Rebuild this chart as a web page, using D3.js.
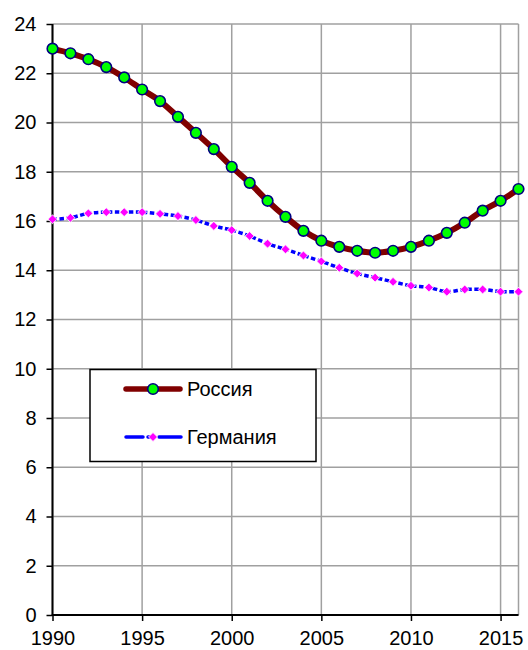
<!DOCTYPE html>
<html>
<head>
<meta charset="utf-8">
<script src="https://cdn.jsdelivr.net/npm/d3@7"></script>
<style>
  body { margin: 0; background: #fff; }
  svg text { font-family: "Liberation Sans", Arial, sans-serif; fill: #000; }
</style>
</head>
<body>
<svg id="chart"></svg>
<script>
const years = d3.range(1990, 2017);
const russia = [23.0, 22.81, 22.57, 22.25, 21.83, 21.34, 20.87, 20.23, 19.58, 18.92,
  18.2, 17.55, 16.82, 16.17, 15.6, 15.2, 14.95, 14.79, 14.71, 14.79,
  14.95, 15.2, 15.52, 15.93, 16.42, 16.82, 17.3];
const germany = [16.07, 16.13, 16.31, 16.36, 16.36, 16.36, 16.29, 16.2, 16.04, 15.8,
  15.63, 15.39, 15.08, 14.85, 14.6, 14.36, 14.1, 13.87, 13.7, 13.53,
  13.37, 13.3, 13.13, 13.22, 13.22, 13.13, 13.13];
const yTicks = [0, 2, 4, 6, 8, 10, 12, 14, 16, 18, 20, 22, 24];
const xTicks = [1990, 1995, 2000, 2005, 2010, 2015];
const seriesNames = ["Россия", "Германия"];

const W = 528, H = 650;
const svg = d3.select("#chart").attr("width", W).attr("height", H);

const x = d3.scaleLinear().domain([1990, 2016]).range([52.5, 518.5]);
const y = d3.scaleLinear().domain([0, 24]).range([615, 24]);

// grid
const grid = svg.append("g").style("stroke", "#a0a0a0").style("stroke-width", 1.5);
yTicks.forEach(t => {
  grid.append("line").attr("x1", x(1990)).attr("x2", x(2016)).attr("y1", y(t)).attr("y2", y(t));
});
xTicks.concat([2016]).forEach(t => {
  grid.append("line").attr("x1", x(t)).attr("x2", x(t)).attr("y1", y(0)).attr("y2", y(24));
});

// axes
const yAxis = svg.append("g").attr("transform", `translate(${x(1990)},0)`)
  .call(d3.axisLeft(y).tickValues(yTicks).tickSize(6).tickPadding(10).tickFormat(d3.format("d")));
const xAxis = svg.append("g").attr("transform", `translate(0,${y(0)})`)
  .call(d3.axisBottom(x).tickValues(xTicks).tickSize(6).tickPadding(10).tickFormat(d3.format("d")));
[yAxis, xAxis].forEach(a => {
  a.select(".domain").remove();
  a.selectAll("line").style("stroke", "#000").style("stroke-width", 1.5);
  a.selectAll("text").style("font-size", "20px").style("font-family", "Liberation Sans, Arial, sans-serif");
});
svg.append("line").attr("x1", x(1990)).attr("x2", x(1990)).attr("y1", y(24)).attr("y2", y(0) + 0.75)
  .style("stroke", "#000").style("stroke-width", 2);
svg.append("line").attr("x1", x(1990) - 0.75).attr("x2", x(2016)).attr("y1", y(0)).attr("y2", y(0))
  .style("stroke", "#000").style("stroke-width", 2);

const line = d3.line().x((d, i) => x(years[i])).y(d => y(d)).curve(d3.curveCardinal.tension(0));

// Germany
svg.append("path").attr("d", line(germany)).attr("fill", "none")
  .style("stroke", "#0000ff").style("stroke-width", 3.5).style("stroke-dasharray", "4.5,2.5");
const diamond = d3.symbol(d3.symbolSquare, 40);
svg.append("g").selectAll("path").data(germany).join("path")
  .attr("d", diamond)
  .attr("transform", (d, i) => `translate(${x(years[i])},${y(d)}) rotate(45)`)
  .style("fill", "#ff00ff").style("stroke", "#fff").style("stroke-width", 0.8);

// Russia
svg.append("path").attr("d", line(russia)).attr("fill", "none")
  .style("stroke", "#800000").style("stroke-width", 6);
svg.append("g").selectAll("circle").data(russia).join("circle")
  .attr("cx", (d, i) => x(years[i])).attr("cy", d => y(d)).attr("r", 5.3)
  .style("fill", "#00ff00").style("stroke", "#000080").style("stroke-width", 1.6);

// legend
const lg = svg.append("g");
lg.append("rect").attr("x", 90).attr("y", 369.5).attr("width", 226).attr("height", 92)
  .style("fill", "#fff").style("stroke", "#000").style("stroke-width", 1.5);
lg.append("line").attr("x1", 126).attr("x2", 180).attr("y1", 389).attr("y2", 389)
  .style("stroke", "#800000").style("stroke-width", 5.5).style("stroke-linecap", "round");
lg.append("circle").attr("cx", 153).attr("cy", 389).attr("r", 5.3)
  .style("fill", "#00ff00").style("stroke", "#000080").style("stroke-width", 1.6);
lg.append("line").attr("x1", 126).attr("x2", 181).attr("y1", 437).attr("y2", 437)
  .style("stroke", "#0000ff").style("stroke-width", 3.5).style("stroke-linecap", "round")
  .style("stroke-dasharray", "17,5,6,5,22");
lg.append("path").attr("d", diamond).attr("transform", "translate(153,437) rotate(45)")
  .style("fill", "#ff00ff").style("stroke", "#fff").style("stroke-width", 0.8);
seriesNames.forEach((n, i) => {
  lg.append("text").attr("x", 187).attr("y", 389 + i * 48).attr("dy", "0.36em")
    .style("font-size", "20px").text(n);
});
</script>
</body>
</html>
